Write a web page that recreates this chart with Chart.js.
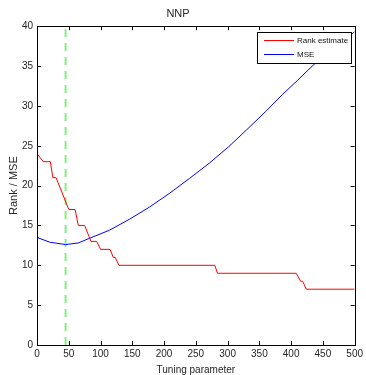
<!DOCTYPE html>
<html>
<head>
<meta charset="utf-8">
<script src="https://cdn.jsdelivr.net/npm/chart.js@4"></script>
<style>
  html, body { margin: 0; padding: 0; background: #fff; }
  #wrap { width: 366px; height: 375px; }
</style>
</head>
<body>
<div id="wrap"><canvas id="nnpChart" width="366" height="375"></canvas></div>
<script>
// rank estimate (integer steps)
const rankX = [0, 10, 21, 25, 30, 50, 60, 65, 75, 85, 94, 100, 115, 120, 123, 129, 280, 284, 408, 415, 418, 424, 500];
const rankY = [24, 23, 23, 21, 21, 17, 17, 15, 15, 13, 13, 12, 12, 11, 11, 10, 10, 9, 9, 8, 8, 7, 7];

// MSE curve
const mseX = [0, 20, 45, 65, 83, 114, 146, 177, 208, 240, 271, 302, 330, 360, 386, 410, 436, 470, 500];
const mseY = [13.5, 12.9, 12.6, 12.8, 13.4, 14.4, 15.8, 17.3, 19.0, 20.9, 22.8, 24.9, 27.0, 29.3, 31.4, 33.2, 35.2, 37.4, 39.3];

// selected tuning parameter (dashed green marker)
const bestLambda = 45;
const yRange = [0, 40];

const FONT = "'Liberation Sans', Arial, sans-serif";

const toPoints = (xs, ys) => xs.map((x, i) => ({ x: x, y: ys[i] }));

// MATLAB-ish box with inward ticks on all four sides
const boxAxes = {
    id: 'boxAxes',
    afterDatasetsDraw(chart) {
        const { ctx, chartArea: a, scales } = chart;
        const len = 4;
        ctx.save();
        ctx.strokeStyle = '#000';
        ctx.lineWidth = 1;
        ctx.beginPath();
        scales.x.ticks.forEach(t => {
            const px = Math.round(scales.x.getPixelForValue(t.value)) + 0.5;
            ctx.moveTo(px, a.bottom); ctx.lineTo(px, a.bottom - len);
            ctx.moveTo(px, a.top); ctx.lineTo(px, a.top + len);
        });
        scales.y.ticks.forEach(t => {
            const py = Math.round(scales.y.getPixelForValue(t.value)) + 0.5;
            ctx.moveTo(a.left, py); ctx.lineTo(a.left + len, py);
            ctx.moveTo(a.right, py); ctx.lineTo(a.right - len, py);
        });
        ctx.stroke();
        ctx.strokeRect(Math.round(a.left) + 0.5, Math.round(a.top) + 0.5,
            Math.round(a.right - a.left), Math.round(a.bottom - a.top));
        ctx.restore();
    }
};

// opaque legend box in the upper right corner
const boxLegend = {
    id: 'boxLegend',
    afterDraw(chart) {
        const { ctx, chartArea: a } = chart;
        const items = chart.data.datasets.filter(d => d.inLegend);
        const w = 94, rowH = 14;
        const h = items.length * rowH + 3;
        const x0 = Math.round(a.right) - 4 - w, y0 = Math.round(a.top) + 6;
        ctx.save();
        ctx.fillStyle = '#fff';
        ctx.fillRect(x0, y0, w, h);
        ctx.strokeStyle = '#000';
        ctx.lineWidth = 1;
        ctx.strokeRect(x0 + 0.5, y0 + 0.5, w, h);
        ctx.font = '8px ' + FONT;
        ctx.textBaseline = 'middle';
        items.forEach((d, i) => {
            const cy = y0 + 8.5 + i * rowH;
            ctx.strokeStyle = d.borderColor;
            ctx.beginPath();
            ctx.moveTo(x0 + 7, cy); ctx.lineTo(x0 + 37, cy);
            ctx.stroke();
            ctx.fillStyle = '#111';
            ctx.fillText(d.label, x0 + 40, cy);
        });
        ctx.restore();
    }
};

new Chart(document.getElementById('nnpChart'), {
    type: 'line',
    data: {
        datasets: [{
            label: 'Rank estimate',
            data: toPoints(rankX, rankY),
            borderColor: '#ff0000',
            borderWidth: 1,
            pointRadius: 0,
            tension: 0,
            inLegend: true
        }, {
            label: 'MSE',
            data: toPoints(mseX, mseY),
            borderColor: '#0000ff',
            borderWidth: 1,
            pointRadius: 0,
            tension: 0,
            inLegend: true
        }, {
            label: 'selected',
            data: [{ x: bestLambda, y: yRange[0] }, { x: bestLambda, y: yRange[1] }],
            borderColor: '#80f080',
            borderWidth: 2,
            borderDash: [8, 6],
            pointRadius: 0,
            inLegend: false
        }]
    },
    options: {
        responsive: false,
        animation: false,
        layout: { padding: { left: 0, right: 10, top: 0, bottom: 0 } },
        scales: {
            x: {
                type: 'linear',
                min: 0, max: 500,
                grid: { display: false, drawTicks: false },
                border: { display: false },
                ticks: { stepSize: 50, autoSkip: false, maxRotation: 0, padding: 3, color: '#262626', font: { family: FONT, size: 10 } },
                title: { display: true, text: 'Tuning parameter', color: '#262626', font: { family: FONT, size: 10, lineHeight: 1 }, padding: 0 },
                afterFit(s) { s.height = 30; }
            },
            y: {
                min: yRange[0], max: yRange[1],
                grid: { display: false, drawTicks: false },
                border: { display: false },
                ticks: { stepSize: 5, padding: 4, color: '#262626', font: { family: FONT, size: 10 } },
                title: { display: true, text: 'Rank / MSE', color: '#262626', font: { family: FONT, size: 11, lineHeight: 1 }, padding: { top: 8, bottom: 0 } },
                afterFit(s) { s.width = 37; }
            }
        },
        plugins: {
            legend: { display: false },
            tooltip: { enabled: false },
            title: {
                display: true,
                text: 'NNP',
                color: '#262626',
                font: { family: FONT, size: 11, weight: 'normal' },
                padding: { top: 7, bottom: 6 }
            }
        }
    },
    plugins: [boxAxes, boxLegend]
});
</script>
</body>
</html>
